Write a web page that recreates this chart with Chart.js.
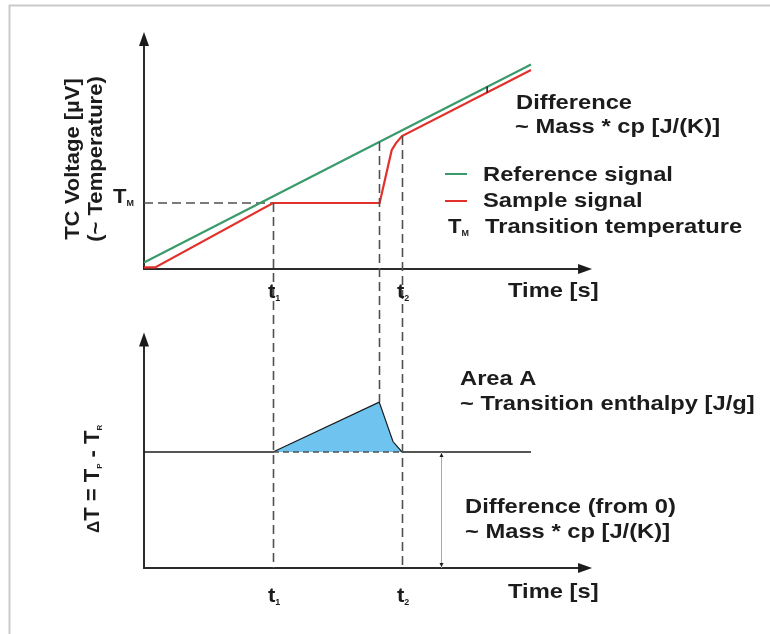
<!DOCTYPE html>
<html>
<head>
<meta charset="utf-8">
<script src="https://cdn.jsdelivr.net/npm/chart.js@4/dist/chart.umd.min.js"></script>
<style>
  html, body { margin: 0; padding: 0; background: #fff; }
  #wrap { width: 770px; height: 634px; }
</style>
</head>
<body>
<div id="wrap"><canvas id="dsc" width="770" height="634"></canvas></div>
<script>
// time marks on both plots (arbitrary time units)
const t1 = 30;
const t2 = 60;
const tPeak = 54.7;
const tickTimes = [t1, t2];
const tickSubs = ['1', '2'];

// top plot: thermocouple voltage
const tMelt = 30;
const referenceTime = [0, 54.7, 90];
const referenceVoltage = [3, 57.7, 93];
const sampleTime = [0, 2.6, 30, 54.8, 57.6, 58.6, 60, 90];
const sampleVoltage = [0.7, 0.7, 30, 30, 54, 57.2, 60.4, 90.5];
const meltLineTime = [0, 30];
const meltLineVoltage = [tMelt, tMelt];

// bottom plot: delta T
const deltaTime = [30, 54.7, 57.9, 60];
const deltaValue = [10, 14.3, 10.9, 10];
const baselineTime = [0, 30, 60, 90];
const baselineValue = [10, 10, 10, 10];
const offsetTime = 69;

// axis lengths
const timeAxisEnd = 104.2;
const voltageAxisEnd = 107.7;
const deltaAxisEnd = 20.3;

// layout
const W = 770, H = 634;
const ORIGIN_X = 144, X_UNIT = 4.3;
const TOP_ORIGIN_Y = 269, TOP_UNIT = 2.2;
const BOT_ORIGIN_Y = 568, BOT_UNIT = 11.6;

const GREEN = '#3a9a6c';
const RED = '#e2302a';
const INK = '#1c1c1c';
const FONT = '"Liberation Sans", Arial, sans-serif';

const pts = (xs, ys) => xs.map((x, i) => ({ x, y: ys[i] }));

function txt(ctx, str, x, y, size = 21, sx = 1.13) {
  ctx.save();
  ctx.translate(x, y);
  ctx.scale(sx, 1);
  ctx.font = `bold ${size}px ${FONT}`;
  ctx.fillText(str, 0, 0);
  ctx.restore();
}

// text with pieces, some as subscripts: [[str, size, dy], ...]
function rich(ctx, parts, x, y, sx = 1.13) {
  ctx.save();
  ctx.translate(x, y);
  ctx.scale(sx, 1);
  let cx = 0;
  for (const [s, size, dy] of parts) {
    ctx.font = `bold ${size}px ${FONT}`;
    ctx.fillText(s, cx, dy || 0);
    cx += ctx.measureText(s).width;
  }
  ctx.restore();
  return cx * sx;
}

function head(ctx, x, y, dir, len = 14, half = 5) {
  ctx.beginPath();
  ctx.moveTo(x, y);
  if (dir === 'up') { ctx.lineTo(x - half, y + len); ctx.lineTo(x + half, y + len); }
  else if (dir === 'down') { ctx.lineTo(x - half, y - len); ctx.lineTo(x + half, y - len); }
  else { ctx.lineTo(x - len, y - half); ctx.lineTo(x - len, y + half); }
  ctx.closePath();
  ctx.fill();
}

const diagram = {
  id: 'diagram',
  beforeDatasetsDraw(chart) {
    const { ctx, scales: { x, y, y2 } } = chart;
    ctx.save();
    // frame
    ctx.strokeStyle = '#cacaca';
    ctx.lineWidth = 2;
    ctx.beginPath();
    ctx.moveTo(9.5, H); ctx.lineTo(9.5, 5.5); ctx.lineTo(W, 5.5);
    ctx.stroke();

    // axes with arrows
    ctx.strokeStyle = '#2b2b2b';
    ctx.fillStyle = INK;
    ctx.lineWidth = 2;
    for (const [sc, end] of [[y, voltageAxisEnd], [y2, deltaAxisEnd]]) {
      const x0 = x.getPixelForValue(0), y0 = sc.getPixelForValue(0);
      const xe = x.getPixelForValue(timeAxisEnd), ye = sc.getPixelForValue(end);
      ctx.beginPath();
      ctx.moveTo(x0, ye + 10); ctx.lineTo(x0, y0); ctx.lineTo(xe - 10, y0);
      ctx.stroke();
      head(ctx, x0, ye, 'up');
      head(ctx, xe, y0, 'right');
    }
    ctx.restore();
  },
  afterDatasetsDraw(chart) {
    const { ctx, scales: { x, y, y2 } } = chart;
    ctx.save();

    // dashed guides through both plots
    ctx.strokeStyle = '#505050';
    ctx.lineWidth = 1.6;
    ctx.setLineDash([9, 5]);
    const guides = [
      [t1, y.getPixelForValue(tMelt), y2.getPixelForValue(0)],
      [tPeak, y.getPixelForValue(referenceVoltage[1]), y2.getPixelForValue(deltaValue[1])],
      [t2, y.getPixelForValue(sampleVoltage[6]), y2.getPixelForValue(0)]
    ];
    for (const [t, a, b] of guides) {
      const px = Math.round(x.getPixelForValue(t)) + 0.5;
      ctx.beginPath(); ctx.moveTo(px, a); ctx.lineTo(px, b); ctx.stroke();
    }
    ctx.setLineDash([]);

    // offset arrow (from 0 to baseline)
    const ox = Math.round(x.getPixelForValue(offsetTime)) + 0.5;
    const oa = y2.getPixelForValue(0), ob = y2.getPixelForValue(baselineValue[0]);
    ctx.strokeStyle = '#a8a8a8';
    ctx.lineWidth = 1;
    ctx.beginPath(); ctx.moveTo(ox, oa); ctx.lineTo(ox, ob); ctx.stroke();
    ctx.fillStyle = INK;
    head(ctx, ox, ob + 1, 'up', 4, 2);
    head(ctx, ox, oa - 1, 'down', 4, 2);

    // small marker between reference and sample
    const mx = x.getPixelForValue(79.8);
    ctx.strokeStyle = INK;
    ctx.lineWidth = 1.5;
    ctx.beginPath(); ctx.moveTo(mx, 86.5); ctx.lineTo(mx, 92.5); ctx.stroke();

    // legend lines
    ctx.lineWidth = 2;
    ctx.strokeStyle = GREEN;
    ctx.beginPath(); ctx.moveTo(445, 174); ctx.lineTo(467, 174); ctx.stroke();
    ctx.strokeStyle = RED;
    ctx.beginPath(); ctx.moveTo(445, 201); ctx.lineTo(467, 201); ctx.stroke();

    // texts
    ctx.fillStyle = INK;
    ctx.textBaseline = 'alphabetic';
    txt(ctx, 'Difference', 516, 109);
    txt(ctx, '~ Mass * cp [J/(K)]', 515, 133);
    txt(ctx, 'Reference signal', 483, 181);
    txt(ctx, 'Sample signal', 483, 207);
    rich(ctx, [['T', 21], ['M', 8.5, 3]], 448, 233, 1.05);
    txt(ctx, 'Transition temperature', 485, 233);
    txt(ctx, 'Area A', 460, 385);
    txt(ctx, '~ Transition enthalpy [J/g]', 460, 410);
    txt(ctx, 'Difference (from 0)', 465, 513);
    txt(ctx, '~ Mass * cp [J/(K)]', 465, 538);
    txt(ctx, 'Time [s]', 508, 297);
    txt(ctx, 'Time [s]', 508, 598);

    // T_M on the voltage axis
    rich(ctx, [['T', 21], ['M', 8.5, 3]], 113, 203, 1.05);

    // time ticks t1, t2 on both plots
    tickTimes.forEach((t, i) => {
      const px = x.getPixelForValue(t);
      rich(ctx, [['t', 21], [tickSubs[i], 8.5, 3]], px - 5, 298, 1.05);
      rich(ctx, [['t', 21], [tickSubs[i], 8.5, 3]], px - 5, 602, 1.05);
    });

    // rotated axis titles
    ctx.save();
    ctx.translate(79, 159);
    ctx.rotate(-Math.PI / 2);
    ctx.textAlign = 'center';
    txt(ctx, 'TC Voltage [\u00b5V]', 0, 0, 21, 1.05);
    ctx.restore();
    ctx.save();
    ctx.translate(102, 159);
    ctx.rotate(-Math.PI / 2);
    ctx.textAlign = 'center';
    txt(ctx, '(~ Temperature)', 0, 0, 21, 1.05);
    ctx.restore();

    ctx.save();
    ctx.translate(99, 533);
    ctx.rotate(-Math.PI / 2);
    rich(ctx, [['\u0394', 17], ['T = T', 22], ['P', 8, 3], [' - T', 22], ['R', 8, 3]], 0, 0, 1.0);
    ctx.restore();

    ctx.restore();
  }
};

const lineDs = (data, color, width, extra = {}) => Object.assign({
  data, borderColor: color, borderWidth: width, showLine: true,
  pointRadius: 0, fill: false, tension: 0
}, extra);

new Chart(document.getElementById('dsc'), {
  type: 'scatter',
  data: {
    datasets: [
      lineDs(pts(referenceTime, referenceVoltage), GREEN, 2.2, { yAxisID: 'y' }),
      lineDs(pts(sampleTime, sampleVoltage), RED, 2.2, { yAxisID: 'y' }),
      lineDs(pts(meltLineTime, meltLineVoltage), '#505050', 1.6, { yAxisID: 'y', borderDash: [9, 5] }),
      lineDs(pts(baselineTime, baselineValue), INK, 1.6, {
        yAxisID: 'y2',
        segment: {
          borderDash: c => (c.p0.parsed.x >= t1 && c.p1.parsed.x <= t2) ? [6, 4] : undefined,
          borderColor: c => (c.p0.parsed.x >= t1 && c.p1.parsed.x <= t2) ? '#505050' : undefined
        }
      }),
      lineDs(pts(deltaTime, deltaValue), INK, 1.2, {
        yAxisID: 'y2',
        fill: { value: baselineValue[0] },
        backgroundColor: '#6ec4ee'
      })
    ]
  },
  options: {
    responsive: false,
    animation: false,
    layout: { padding: 0 },
    plugins: { legend: { display: false }, tooltip: { enabled: false } },
    scales: {
      x: { type: 'linear', display: false, min: -ORIGIN_X / X_UNIT, max: (W - ORIGIN_X) / X_UNIT },
      y: { type: 'linear', display: false, min: (TOP_ORIGIN_Y - H) / TOP_UNIT, max: TOP_ORIGIN_Y / TOP_UNIT },
      y2: { type: 'linear', display: false, min: (BOT_ORIGIN_Y - H) / BOT_UNIT, max: BOT_ORIGIN_Y / BOT_UNIT }
    }
  },
  plugins: [diagram]
});
</script>
</body>
</html>
